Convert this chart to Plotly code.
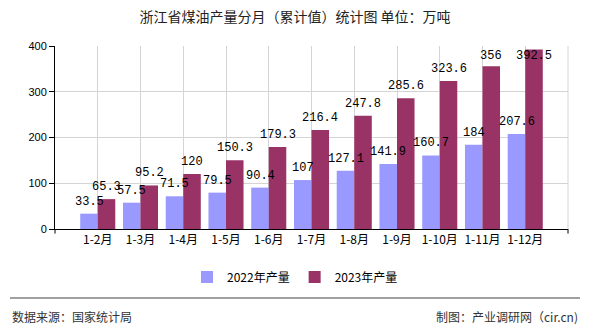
import plotly.graph_objects as go

categories = ["1-2月", "1-3月", "1-4月", "1-5月", "1-6月", "1-7月", "1-8月", "1-9月", "1-10月", "1-11月", "1-12月"]
values_2022 = [33.5, 57.5, 71.5, 79.5, 90.4, 107, 127.1, 141.9, 160.7, 184, 207.6]
values_2023 = [65.3, 95.2, 120, 150.3, 179.3, 216.4, 247.8, 285.6, 323.6, 356, 392.5]
series_names = ["2022年产量", "2023年产量"]
y_ticks = [0, 100, 200, 300, 400]

title_text = "浙江省煤油产量分月（累计值）统计图 单位：万吨"
source_text = "数据来源：国家统计局"
credit_text = "制图：产业调研网（cir.cn)"

cjk = "Noto Sans CJK SC"
mono = "Liberation Mono"

Y_MAX = 400
PLOT_H = 183  # plot area height in px
BAR_OFF = 8.75  # half bar width in px

fig = go.Figure()
fig.add_trace(go.Bar(
    x=categories, y=values_2022, name=series_names[0],
    marker=dict(color="#9999FF", line=dict(width=0)),
))
fig.add_trace(go.Bar(
    x=categories, y=values_2023, name=series_names[1],
    marker=dict(color="#993366", line=dict(width=0)),
))

# value labels drawn on top of all bars
for vals, dx in ((values_2022, -BAR_OFF), (values_2023, BAR_OFF)):
    for c, v in zip(categories, vals):
        room = (Y_MAX - v) * PLOT_H / Y_MAX - 10
        fig.add_annotation(x=c, y=v, text=f"{v:g}", showarrow=False,
                           xshift=dx, yshift=min(12, room), yanchor="middle",
                           font=dict(family=mono, size=12, color="#000000"))

fig.update_layout(
    width=590, height=330,
    margin=dict(l=55, r=22, t=46, b=101),
    paper_bgcolor="white", plot_bgcolor="white",
    barmode="group", bargap=0.18, bargroupgap=0,
    showlegend=True,
    legend=dict(orientation="h", x=0.5, xref="container", xanchor="center",
                y=1 - 277 / 330, yref="container", yanchor="middle",
                font=dict(family=cjk, size=12, color="#000000"),
                itemwidth=30, traceorder="normal"),
    title=dict(text=title_text, x=0.5, xanchor="center", y=1 - 17 / 330, yanchor="middle",
               font=dict(family=cjk, size=14, color="#222222")),
)

fig.update_xaxes(
    type="category", range=[-1, 11],
    showgrid=True, gridcolor="#D4D4D4", gridwidth=1,
    showline=True, linecolor="#000000", linewidth=1,
    ticks="", tickfont=dict(family=cjk, size=12, color="#000000"),
    zeroline=False,
)
fig.update_yaxes(
    range=[0, Y_MAX], tickvals=y_ticks,
    showgrid=True, gridcolor="#D4D4D4", gridwidth=1,
    showline=True, linecolor="#000000", linewidth=1,
    ticks="outside", ticklen=5, tickcolor="#000000",
    tickfont=dict(family="Liberation Sans", size=11, color="#000000"),
    zeroline=False,
)

# right border of plot area
fig.add_shape(type="line", xref="paper", yref="paper", x0=1, x1=1, y0=0, y1=1,
              line=dict(color="#D4D4D4", width=1))
# end ticks on x axis
for xp in (0, 1):
    fig.add_shape(type="line", xref="paper", yref="paper", x0=xp, x1=xp, y0=0, y1=-0.025,
                  line=dict(color="#000000", width=1))
# footer rule
fig.add_shape(type="line", xref="paper", yref="paper",
              x0=(10 - 55) / 513, x1=(580 - 55) / 513,
              y0=-(298 - 229) / 183, y1=-(298 - 229) / 183,
              line=dict(color="#808080", width=1.5))

fig.add_annotation(text=source_text, xref="paper", yref="paper",
                   x=(10 - 55) / 513, xanchor="left",
                   y=-(316 - 229) / 183, yanchor="middle", showarrow=False,
                   font=dict(family=cjk, size=12, color="#333333"))
fig.add_annotation(text=credit_text, xref="paper", yref="paper",
                   x=(580 - 55) / 513, xanchor="right",
                   y=-(316 - 229) / 183, yanchor="middle", showarrow=False,
                   font=dict(family=cjk, size=12, color="#333333"))

fig.write_html("out.html")
